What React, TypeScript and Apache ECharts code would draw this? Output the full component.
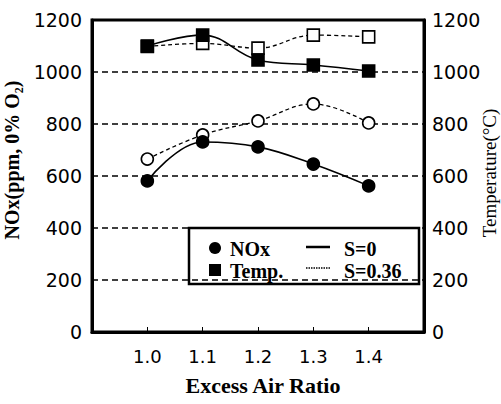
import React, { useEffect, useRef } from "react";
import * as echarts from "echarts";

const xValues = [1.0, 1.1, 1.2, 1.3, 1.4];
const noxS0 = [581, 731, 712, 646, 562];
const noxS036 = [665, 758, 812, 877, 804];
const tempS0 = [1100, 1142, 1046, 1027, 1004];
const tempS036 = [1098, 1110, 1092, 1142, 1135];
const yTicks = [0, 200, 400, 600, 800, 1000, 1200];

const pairs = (ys: number[]) => xValues.map((x, i) => [x, ys[i]]);

const SANS = "DejaVu Sans";
const SERIF = "Liberation Serif";

export default function App() {
  const ref = useRef<HTMLDivElement>(null);
  useEffect(() => {
    if (!ref.current) return;
    const chart = echarts.init(ref.current, null, { renderer: "svg" });
    const labelStyle = { color: "#000", fontFamily: SANS, fontSize: 18 };
    const base = (name: string, data: number[], yAxisIndex: number, solid: boolean, symbol: string, filled: boolean) => ({
      name,
      type: "line",
      yAxisIndex,
      data: pairs(data),
      smooth: 0.4,
      symbol,
      symbolSize: 12,
      lineStyle: { color: "#000", width: solid ? 1.6 : 1.3, type: solid ? "solid" : [4, 3] },
      itemStyle: { color: filled ? "#000" : "#fff", borderColor: "#000", borderWidth: 1.6 },
      z: filled ? 3 : 2,
    });
    chart.setOption({
      animation: false,
      backgroundColor: "#fff",
      grid: { left: 92, right: 77, top: 20, bottom: 72, show: true, borderColor: "#000", borderWidth: 3, backgroundColor: "transparent" },
      xAxis: {
        type: "value",
        min: 0.9,
        max: 1.5,
        interval: 0.1,
        axisLine: { lineStyle: { color: "#000", width: 3 } },
        axisTick: { inside: true, length: 5, lineStyle: { color: "#000", width: 1 } },
        splitLine: { show: false },
        axisLabel: {
          ...labelStyle,
          margin: 15,
          formatter: (v: number) => (v > 0.95 && v < 1.45 ? v.toFixed(1) : ""),
        },
      },
      yAxis: [
        {
          type: "value",
          min: 0,
          max: 1200,
          interval: 200,
          axisLine: { show: true, lineStyle: { color: "#000", width: 3 } },
          axisTick: { show: false },
          splitLine: {
            show: true,
            lineStyle: { color: "#000", width: 1.5, type: [6, 4] },
          },
          axisLabel: { ...labelStyle, fontSize: 19, margin: 10, formatter: (v: number) => (yTicks.includes(v) ? String(v) : "") },
        },
        {
          type: "value",
          min: 0,
          max: 1200,
          interval: 200,
          position: "right",
          axisLine: { show: true, lineStyle: { color: "#000", width: 3 } },
          axisTick: { show: false },
          splitLine: { show: false },
          axisLabel: { ...labelStyle, fontSize: 19, margin: 8, formatter: (v: number) => (yTicks.includes(v) ? String(v) : "") },
        },
      ],
      series: [
        base("Temp. S=0.36", tempS036, 1, false, "rect", false),
        base("Temp. S=0", tempS0, 1, true, "rect", true),
        base("NOx S=0.36", noxS036, 0, false, "circle", false),
        base("NOx S=0", noxS0, 0, true, "circle", true),
      ],
      graphic: [
        {
          type: "text",
          x: 12,
          y: 160,
          rotation: Math.PI / 2,
          style: { text: "NOx(ppm, 0% O₂)", fontFamily: SERIF, fontSize: 20, fontWeight: "bold", fill: "#000", align: "center", verticalAlign: "middle" },
        },
        {
          type: "text",
          x: 489,
          y: 173,
          rotation: Math.PI / 2,
          style: { text: "Temperature(°C)", fontFamily: SERIF, fontSize: 19, fill: "#000", align: "center", verticalAlign: "middle" },
        },
        {
          type: "text",
          x: 263,
          y: 385,
          style: { text: "Excess Air Ratio", fontFamily: SERIF, fontSize: 22, fontWeight: "bold", fill: "#000", align: "center", verticalAlign: "middle" },
        },
        {
          type: "group",
          z: 100,
          children: [
            { type: "rect", shape: { x: 189, y: 228, width: 230, height: 56 }, style: { fill: "#fff", stroke: "#000", lineWidth: 2.5 } },
            { type: "circle", shape: { cx: 215, cy: 248, r: 6 }, style: { fill: "#000" } },
            { type: "rect", shape: { x: 209, y: 264, width: 12, height: 12 }, style: { fill: "#000" } },
            { type: "text", x: 230, y: 249, style: { text: "NOx", fontFamily: SERIF, fontSize: 20, fontWeight: "bold", fill: "#000", verticalAlign: "middle" } },
            { type: "text", x: 230, y: 271, style: { text: "Temp.", fontFamily: SERIF, fontSize: 20, fontWeight: "bold", fill: "#000", verticalAlign: "middle" } },
            { type: "line", shape: { x1: 306, y1: 247, x2: 330, y2: 247 }, style: { stroke: "#000", lineWidth: 2.5 } },
            { type: "line", shape: { x1: 306, y1: 268, x2: 330, y2: 268 }, style: { stroke: "#000", lineWidth: 1.5, lineDash: [1.5, 1] } },
            { type: "text", x: 344, y: 249, style: { text: "S=0", fontFamily: SERIF, fontSize: 20, fontWeight: "bold", fill: "#000", verticalAlign: "middle" } },
            { type: "text", x: 344, y: 271, style: { text: "S=0.36", fontFamily: SERIF, fontSize: 20, fontWeight: "bold", fill: "#000", verticalAlign: "middle" } },
          ],
        },
      ],
    });
    return () => chart.dispose();
  }, []);
  return <div ref={ref} style={{ position: "fixed", left: 0, top: 0, width: 501, height: 404 }} />;
}
